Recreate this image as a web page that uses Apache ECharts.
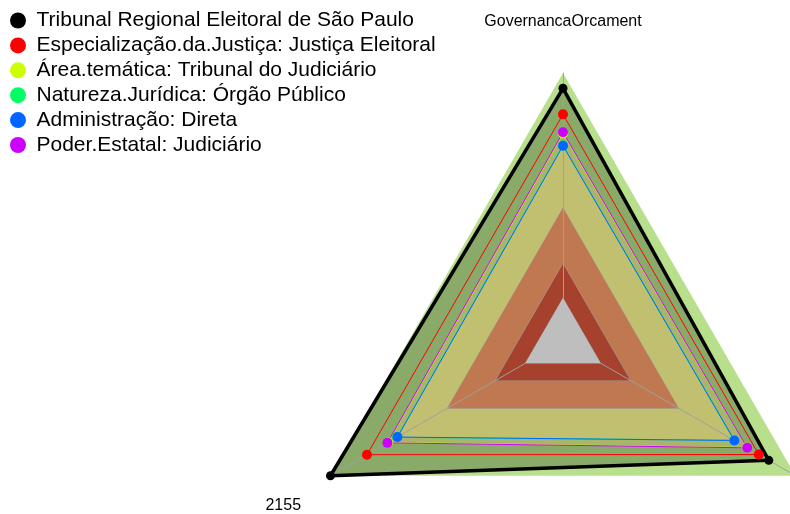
<!DOCTYPE html>
<html>
<head>
<meta charset="utf-8">
<script src="https://cdn.jsdelivr.net/npm/echarts@6/dist/echarts.min.js"></script>
<style>
  html, body { margin: 0; padding: 0; background: #fff; }
  #chart { width: 790px; height: 514px; }
</style>
</head>
<body>
<div id="chart"></div>
<script>
// eixos do radar
const indicatorNames = ['GovernancaOrcament', '2155', ''];

// series (ordem da legenda)
const seriesNames = [
  'Tribunal Regional Eleitoral de São Paulo',
  'Especialização.da.Justiça: Justiça Eleitoral',
  'Área.temática: Tribunal do Judiciário',
  'Natureza.Jurídica: Órgão Público',
  'Administração: Direta',
  'Poder.Estatal: Judiciário'
];
const tribunal = [0.943, 1.0, 0.885];
const especializacao = [0.846, 0.843, 0.842];
const areaTematica = [0.775, 0.752, 0.79];
const natureza = [0.731, 0.714, 0.735];
const administracao = [0.729, 0.712, 0.737];
const poder = [0.779, 0.755, 0.792];

// faixas de referencia (de fora para dentro)
const bandLevels = [1.0, 0.497, 0.29, 0.161];

const seriesValues = [tribunal, especializacao, areaTematica, natureza, administracao, poder];
const lineColors = ['#000000', '#ff0000', '#ccff00', '#00ff66', '#0066ff', '#cc00ff'];
const fillColors = ['#8aaa6a', null, '#a9b46d', '#c0c070', null, null];
const bandColors = ['#b8e08c', '#c07850', '#a5412d', '#bebebe'];
const bandZ = [1, 3, 3, 5];

const chart = echarts.init(document.getElementById('chart'));

const series = [];
// faixas coloridas
bandLevels.forEach((lvl, i) => {
  series.push({
    type: 'radar',
    name: 'faixa' + i,
    z: bandZ[i],
    silent: true,
    symbol: 'none',
    data: [{ value: indicatorNames.map(() => lvl) }],
    lineStyle: { color: '#a0a0a0', width: i === 0 ? 0 : 1 },
    areaStyle: { color: bandColors[i], opacity: 1 }
  });
});

// preenchimentos (abaixo dos eixos)
seriesNames.forEach((name, i) => {
  if (!fillColors[i]) return;
  series.push({
    type: 'radar',
    name: 'area' + i,
    z: 2,
    silent: true,
    symbol: 'none',
    data: [{ value: seriesValues[i] }],
    lineStyle: { width: 0 },
    areaStyle: { color: fillColors[i], opacity: 1 }
  });
});

// linhas e pontos
seriesNames.forEach((name, i) => {
  const ls = { color: lineColors[i], width: i === 0 ? 3.5 : 1 };
  series.push({
    type: 'radar',
    name: name,
    z: 6,
    symbol: 'circle',
    symbolSize: i === 0 ? 9 : 10,
    itemStyle: { color: lineColors[i] },
    lineStyle: ls,
    data: [{ value: seriesValues[i], name: name, lineStyle: ls }]
  });
});

chart.setOption({
  animation: false,
  backgroundColor: '#fff',
  legend: {
    data: seriesNames,
    orient: 'vertical',
    left: 5,
    top: 5,
    icon: 'circle',
    itemWidth: 27,
    itemHeight: 16,
    itemGap: 3.9,
    textStyle: {
      fontFamily: 'Liberation Sans',
      fontSize: 21,
      lineHeight: 21,
      color: '#000'
    }
  },
  radar: {
    center: [563, 341.5],
    radius: 268.5,
    startAngle: 90,
    z: 4,
    shape: 'polygon',
    nameGap: 34,
    axisName: {
      color: '#000',
      fontFamily: 'Liberation Sans',
      fontSize: 16,
      lineHeight: 26,
      padding: [0, 0, 4, 0],
      // rotulos de baixo descem uma linha
      formatter: name => (indicatorNames.indexOf(name) > 0 ? '\n' + name : name)
    },
    indicator: indicatorNames.map(n => ({ name: n, min: 0, max: 1 })),
    axisLine: { lineStyle: { color: '#a0a0a0', width: 1 } },
    splitLine: { show: false },
    splitArea: { show: false },
    axisTick: { show: false },
    axisLabel: { show: false }
  },
  series: series
});
</script>
</body>
</html>
